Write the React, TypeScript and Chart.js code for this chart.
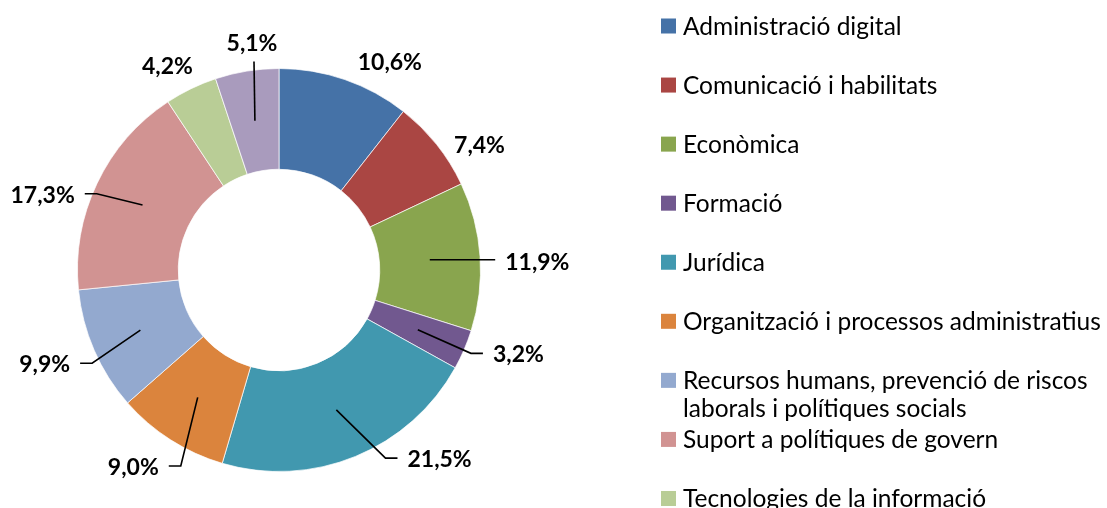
import { useEffect, useRef } from "react";
import { Chart, registerables } from "chart.js";

Chart.register(...registerables);

const categories = [
  "Administració digital",
  "Comunicació i habilitats",
  "Econòmica",
  "Formació",
  "Jurídica",
  "Organització i processos administratius",
  "Recursos humans, prevenció de riscos laborals i polítiques socials",
  "Suport a polítiques de govern",
  "Tecnologies de la informació",
  "Altres",
];

const values = [10.6, 7.4, 11.9, 3.2, 21.5, 9.0, 9.9, 17.3, 4.2, 5.1];

const valueLabels = values.map((v) => v.toFixed(1).replace(".", ",") + "%");

const colors = [
  "#4572A7",
  "#AA4643",
  "#89A54E",
  "#71588F",
  "#4198AF",
  "#DB843D",
  "#93A9CF",
  "#D19392",
  "#B9CD96",
  "#A99BBD",
];

// label placement style: offset of label centre from doughnut centre, in units of outer radius
const labelPlacement = [
  { dx: 0.55, dy: -1.03, leader: "none" },
  { dx: 0.995, dy: -0.619, leader: "none" },
  { dx: 1.282, dy: -0.035, leader: "right" },
  { dx: 1.188, dy: 0.421, leader: "right" },
  { dx: 0.797, dy: 0.941, leader: "right" },
  { dx: -0.723, dy: 0.98, leader: "left" },
  { dx: -1.163, dy: 0.47, leader: "left" },
  { dx: -1.173, dy: -0.371, leader: "left" },
  { dx: -0.554, dy: -1.01, leader: "none" },
  { dx: -0.134, dy: -1.124, leader: "top" },
];

const FONT = "Lato, 'Liberation Sans', sans-serif";

const labelsPlugin = {
  id: "outerLabels",
  afterDatasetsDraw(chart: any) {
    const ctx = chart.ctx;
    const meta = chart.getDatasetMeta(0);
    ctx.save();
    ctx.font = `bold 23px ${FONT}`;
    ctx.textAlign = "center";
    ctx.textBaseline = "middle";
    meta.data.forEach((arc: any, i: number) => {
      const { x, y, startAngle, endAngle, innerRadius, outerRadius } = arc.getProps(
        ["x", "y", "startAngle", "endAngle", "innerRadius", "outerRadius"],
        true
      );
      const mid = (startAngle + endAngle) / 2;
      const rMid = (innerRadius + outerRadius) / 2;
      const p = labelPlacement[i];
      const lx = x + p.dx * outerRadius;
      const ly = y + p.dy * outerRadius;
      const text = valueLabels[i];
      const w = ctx.measureText(text).width;
      const sx = x + Math.cos(mid) * rMid;
      const sy = y + Math.sin(mid) * rMid;
      ctx.strokeStyle = "#000";
      ctx.lineWidth = 1.6;
      if (p.leader === "right") {
        const ex = lx - w / 2 - 10;
        const ey = Math.abs(sy - ly) < 6 ? sy : ly - 1.5;
        ctx.beginPath();
        ctx.moveTo(sx, sy);
        ctx.lineTo(ex - 12, ey);
        ctx.lineTo(ex, ey);
        ctx.stroke();
      } else if (p.leader === "left") {
        const ex = lx + w / 2 + 10;
        const ey = ly - 1.5;
        ctx.beginPath();
        ctx.moveTo(sx, sy);
        ctx.lineTo(ex + 12, ey);
        ctx.lineTo(ex, ey);
        ctx.stroke();
      } else if (p.leader === "top") {
        ctx.beginPath();
        ctx.moveTo(sx, sy);
        ctx.lineTo(lx + 2, ly + 18);
        ctx.stroke();
      }
      ctx.fillStyle = "#000";
      ctx.fillText(text, lx, ly);
    });
    ctx.restore();
  },
};

function wrap(ctx: CanvasRenderingContext2D, text: string, maxW: number): string[] {
  const words = text.split(" ");
  const lines: string[] = [];
  let cur = "";
  for (const wd of words) {
    const t = cur ? cur + " " + wd : wd;
    if (ctx.measureText(t).width > maxW && cur) {
      lines.push(cur);
      cur = wd;
    } else cur = t;
  }
  if (cur) lines.push(cur);
  return lines;
}

const legendPlugin = {
  id: "customLegend",
  afterDraw(chart: any) {
    const ctx = chart.ctx;
    ctx.save();
    ctx.font = `24.5px ${FONT}`;
    ctx.textAlign = "left";
    ctx.textBaseline = "middle";
    const x0 = 661;
    const y0 = 26;
    const step = 59.06;
    categories.forEach((c, i) => {
      const cy = y0 + i * step;
      ctx.fillStyle = colors[i];
      ctx.fillRect(x0, cy - 7.5, 15, 15);
      ctx.fillStyle = "#000";
      const lines = wrap(ctx, c, 440);
      lines.forEach((ln, j) => {
        ctx.fillText(ln, x0 + 22, cy + 1 + j * 27.5);
      });
    });
    ctx.restore();
  },
};

export default function App() {
  const ref = useRef<HTMLCanvasElement>(null);
  useEffect(() => {
    if (!ref.current) return;
    const chart = new Chart(ref.current, {
      type: "doughnut",
      data: {
        labels: categories,
        datasets: [
          {
            data: values,
            backgroundColor: colors,
            borderColor: "rgba(255,255,255,0.7)",
            borderWidth: 1,
          },
        ],
      },
      options: {
        responsive: false,
        animation: false,
        cutout: "50%",
        layout: { padding: { left: 77, right: 626, top: 68, bottom: 36 } },
        plugins: {
          legend: { display: false },
          title: { display: false },
          tooltip: { enabled: false },
        },
      },
      plugins: [labelsPlugin, legendPlugin],
    });
    return () => chart.destroy();
  }, []);
  return (
    <div style={{ position: "absolute", left: 0, top: 0, width: 1107, height: 508, background: "#fff" }}>
      <canvas ref={ref} width={1107} height={508} />
    </div>
  );
}
